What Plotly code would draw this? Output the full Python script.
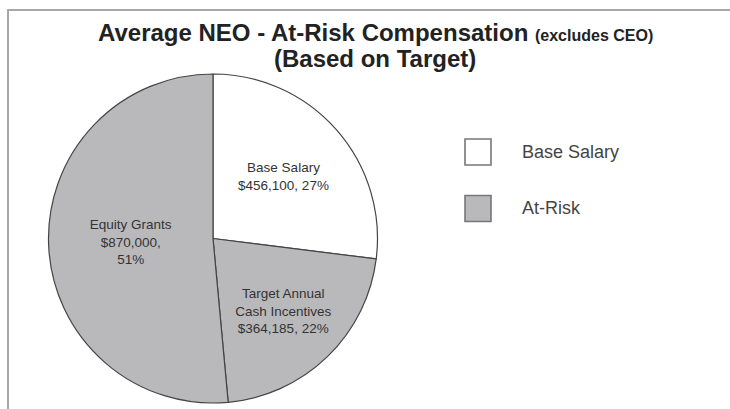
import plotly.graph_objects as go

# slices, clockwise from 12 o'clock
slice_labels = ["Base Salary", "Target Annual<br>Cash Incentives", "Equity Grants"]
slice_values = [456100, 364185, 870000]
slice_colors = ["#ffffff", "#b9b9bb", "#b9b9bb"]
slice_templates = [
    "%{label}<br>%{value:$,}, %{percent:.0%}",
    "%{label}<br>%{value:$,}, %{percent:.0%}",
    "%{label}<br>%{value:$,},<br>%{percent:.0%}",
]

# legend keys
key_labels = ["Base Salary", "At-Risk"]
key_colors = ["#ffffff", "#b9b9bb"]

W, H = 730, 409
FONT = "Liberation Sans, Arial, Helvetica, sans-serif"

fig = go.Figure()

fig.add_trace(go.Pie(
    labels=slice_labels,
    values=slice_values,
    sort=False,
    direction="clockwise",
    rotation=0,
    marker=dict(colors=slice_colors, line=dict(color="#444444", width=1.2)),
    texttemplate=slice_templates,
    textposition="inside",
    insidetextorientation="horizontal",
    insidetextfont=dict(family=FONT, size=13.5, color="#333333"),
    hoverinfo="label+value+percent",
    domain=dict(x=[48 / W, 378 / W], y=[(H - 403) / H, (H - 74) / H]),
    showlegend=False,
))

# legend boxes drawn as square markers on a hidden axis (y: 1 = top row)
key_y = list(range(len(key_labels)))[::-1]
fig.add_trace(go.Scatter(
    x=[478] * len(key_labels),
    y=key_y,
    mode="markers",
    cliponaxis=False,
    marker=dict(symbol="square", size=26, color=key_colors,
                line=dict(color="#777777", width=1.6)),
    hoverinfo="skip",
    showlegend=False,
))

for lab, yy in zip(key_labels, key_y):
    fig.add_annotation(x=520, y=yy, xref="x", yref="y", text=lab,
                       showarrow=False, xanchor="left", yanchor="middle",
                       font=dict(family=FONT, size=18, color="#444444"))

# title, two lines
fig.add_annotation(
    x=375 / W, y=1 - 32 / H, xref="paper", yref="paper",
    text="<b>Average NEO - At-Risk Compensation <span style='font-size:16px'>(excludes CEO)</span></b>",
    showarrow=False, xanchor="center", yanchor="middle",
    font=dict(family=FONT, size=24, color="#222222"))
fig.add_annotation(
    x=375 / W, y=1 - 59 / H, xref="paper", yref="paper",
    text="<b>(Based on Target)</b>",
    showarrow=False, xanchor="center", yanchor="middle",
    font=dict(family=FONT, size=24, color="#222222"))

# frame: top and left edges
fig.add_shape(type="rect", xref="paper", yref="paper",
              x0=8 / W, x1=1.05, y0=-0.05, y1=1 - 10 / H,
              line=dict(color="#a8a8a8", width=2), fillcolor="rgba(0,0,0,0)",
              layer="below")

fig.update_layout(
    width=W, height=H,
    margin=dict(l=0, r=0, t=0, b=0),
    paper_bgcolor="white",
    plot_bgcolor="rgba(0,0,0,0)",
    showlegend=False,
    xaxis=dict(range=[0, W], domain=[0, 1], visible=False, fixedrange=True),
    yaxis=dict(range=[0, 1], domain=[1 - 208.5 / H, 1 - 152 / H],
               visible=False, fixedrange=True),
)

# page body has a default 8px margin; drop it so the chart sits at 0,0
fig.write_html("out.html", config={"displayModeBar": False},
               post_script="document.body.style.margin='0';")
